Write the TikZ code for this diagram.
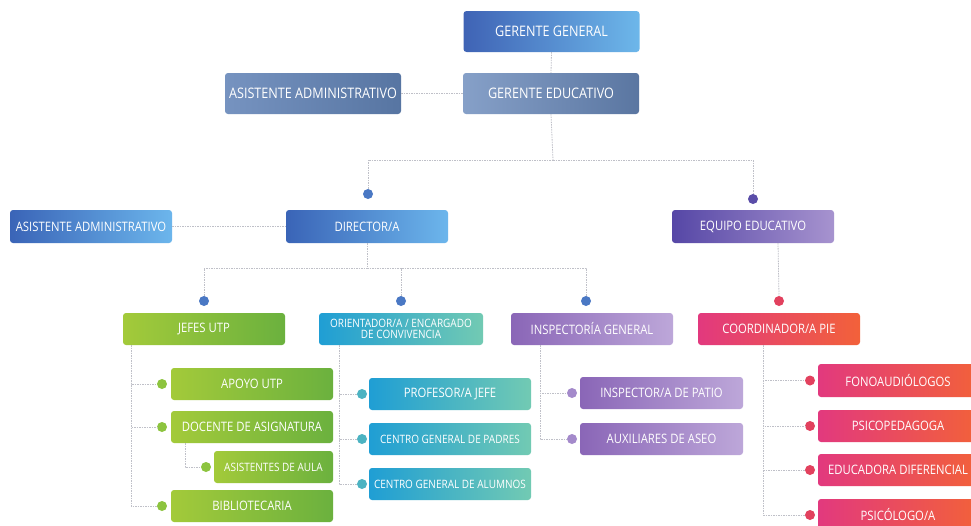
\documentclass[tikz,border=0pt]{standalone}
\usepackage{fontspec}
\setmainfont[FakeStretch=0.87]{Open Sans}
\usetikzlibrary{positioning}
\definecolor{ggL}{HTML}{3F63B5}\definecolor{ggR}{HTML}{6DB7EA}
\definecolor{geL}{HTML}{86A0C8}\definecolor{geR}{HTML}{5A76A1}
\definecolor{asL}{HTML}{7693C0}\definecolor{asR}{HTML}{5775A2}
\definecolor{diL}{HTML}{3A64B7}\definecolor{diR}{HTML}{6CB6EC}
\definecolor{eqL}{HTML}{5647A6}\definecolor{eqR}{HTML}{A793CF}
\definecolor{grL}{HTML}{A3CA3A}\definecolor{grR}{HTML}{6BB13E}
\definecolor{teL}{HTML}{1F9ED4}\definecolor{teR}{HTML}{72CAB3}
\definecolor{puL}{HTML}{8A66B7}\definecolor{puR}{HTML}{BDA7D9}
\definecolor{reL}{HTML}{E2397E}\definecolor{reR}{HTML}{F2613A}
\definecolor{dBlue}{HTML}{4A78C4}\definecolor{dPurp}{HTML}{5A4DA8}
\definecolor{dRed}{HTML}{E2415E}\definecolor{dGreen}{HTML}{8DC43F}
\definecolor{dTeal}{HTML}{4CB3C2}\definecolor{dLilac}{HTML}{A48ACB}
\definecolor{lineC}{HTML}{BFC0C8}
\tikzset{
  box/.style={rounded corners=3pt, text=white, inner sep=0pt, align=center,
    minimum height=32pt, minimum width=162pt, font=\fontsize{13}{14}\selectfont},
  topbox/.style={box, minimum height=41pt, minimum width=176pt, font=\fontsize{14.5}{16}\selectfont},
  smallfont/.style={font=\fontsize{11.5}{12.5}\selectfont},
  gg/.style={left color=ggL, right color=ggR},
  ge/.style={left color=geL, right color=geR},
  as/.style={left color=asL, right color=asR},
  di/.style={left color=diL, right color=diR},
  eq/.style={left color=eqL, right color=eqR},
  gr/.style={left color=grL, right color=grR},
  te/.style={left color=teL, right color=teR},
  pu/.style={left color=puL, right color=puR},
  re/.style={left color=reL, right color=reR},
  dotn/.style={circle, minimum size=10pt, inner sep=0pt, draw=none},
  conn/.style={draw=lineC, line width=0.8pt, dash pattern=on 1.5pt off 1pt},
}
\begin{document}
\begin{tikzpicture}[x=1pt,y=-1pt]
\path[use as bounding box, clip] (0,0) rectangle (971,525);
\fill[white] (0,0) rectangle (971,525);

% top level
\node[topbox, gg] (gg) at (551.5,31.5) {GERENTE GENERAL};
\node[topbox, ge] (ge) at (551,93.5) {GERENTE EDUCATIVO};
\node[topbox, as] (as1) at (313,93.5) {ASISTENTE ADMINISTRATIVO};

% second level
\node[box, di, minimum height=33pt] (dir) at (367,226.5) {DIRECTOR/A};
\node[box, di, minimum height=33pt] (as2) at (91,226.5) {ASISTENTE ADMINISTRATIVO};
\node[box, eq, minimum height=33pt] (eq) at (753,226.5) {EQUIPO EDUCATIVO};

% third level
\node[box, gr] (jef) at (204,329) {JEFES UTP};
\node[box, te, minimum width=164pt, smallfont, font=\fontsize{11.5}{11.5}\selectfont] (ori) at (401,329) {ORIENTADOR/A / ENCARGADO\\DE CONVIVENCIA};
\node[box, pu] (ins) at (592,329) {INSPECTORÍA GENERAL};
\node[box, re] (coo) at (779,329) {COORDINADOR/A PIE};

% children of JEFES UTP
\node[box, gr] (apo) at (252,384) {APOYO UTP};
\node[box, gr] (doc) at (252,427) {DOCENTE DE ASIGNATURA};
\node[box, gr, minimum width=119pt, smallfont] (asa) at (273.5,467) {ASISTENTES DE AULA};
\node[box, gr] (bib) at (252,506) {BIBLIOTECARIA};

% children of ORIENTADOR
\node[box, te] (pro) at (450,394) {PROFESOR/A JEFE};
\node[box, te, smallfont] (cgp) at (450,439) {CENTRO GENERAL DE PADRES};
\node[box, te, smallfont] (cga) at (450,484) {CENTRO GENERAL DE ALUMNOS};

% children of INSPECTORIA
\node[box, pu, minimum width=163pt] (ipa) at (661.5,393) {INSPECTOR/A DE PATIO};
\node[box, pu, minimum width=163pt] (aux) at (661.5,439) {AUXILIARES DE ASEO};

% children of COORDINADOR
\node[box, re, minimum width=160pt, minimum height=33pt] (fon) at (898,380.5) {FONOAUDIÓLOGOS};
\node[box, re, minimum width=160pt] (psi) at (898,426) {PSICOPEDAGOGA};
\node[box, re, minimum width=160pt] (edu) at (898,470) {EDUCADORA DIFERENCIAL};
\node[box, re, minimum width=160pt] (psl) at (898,515) {PSICÓLOGO/A};

% dots
\node[dotn, fill=dBlue] (ddir) at (368,194) {};
\node[dotn, fill=dPurp] (deq) at (753,199) {};
\node[dotn, fill=dBlue] (djef) at (204,301) {};
\node[dotn, fill=dBlue] (dori) at (401,301) {};
\node[dotn, fill=dBlue] (dins) at (586,301) {};
\node[dotn, fill=dRed] (dcoo) at (779,301) {};
\node[dotn, fill=dGreen] (dapo) at (162,384) {};
\node[dotn, fill=dGreen] (ddoc) at (162,427) {};
\node[dotn, fill=dGreen] (dasa) at (206,467) {};
\node[dotn, fill=dGreen] (dbib) at (162,506) {};
\node[dotn, fill=dTeal] (dpro) at (362,394) {};
\node[dotn, fill=dTeal] (dcgp) at (362,439) {};
\node[dotn, fill=dTeal] (dcga) at (362,484) {};
\node[dotn, fill=dLilac] (dipa) at (572,393) {};
\node[dotn, fill=dLilac] (daux) at (572,439) {};
\node[dotn, fill=dRed] (dfon) at (810,380.5) {};
\node[dotn, fill=dRed] (dpsi) at (810,426) {};
\node[dotn, fill=dRed] (dedu) at (810,470) {};
\node[dotn, fill=dRed] (dpsl) at (810,515) {};

% junction coordinates
\coordinate (j1) at (553,160);
\coordinate (j2) at (367,268);
\coordinate (jj) at (131,345);
\coordinate (jd) at (185,443);
\coordinate (jo) at (339,345);
\coordinate (ji) at (540,345);
\coordinate (jc) at (763,345);
\coordinate (je) at (778,243);

% connectors
\begin{scope}[on background layer/.style={}]
\draw[conn] (gg.south) -- (ge.north);
\draw[conn] (as1.east) -- (ge.west);
\draw[conn] (ge.south) -- (j1);
\draw[conn] (ddir.north) |- (j1);
\draw[conn] (j1) -| (deq.north);
\draw[conn] (as2.east) -- (dir.west);
\draw[conn] (dir.south) -- (j2);
\draw[conn] (djef.north) |- (j2);
\draw[conn] (dori.north) |- (j2);
\draw[conn] (j2) -| (dins.north);
\draw[conn] (je) -- (dcoo.north);
\draw[conn] (jj) |- (dapo.west);
\draw[conn] (jj) |- (ddoc.west);
\draw[conn] (jj) |- (dbib.west);
\draw[conn] (jd) |- (dasa.west);
\draw[conn] (jo) |- (dpro.west);
\draw[conn] (jo) |- (dcgp.west);
\draw[conn] (jo) |- (dcga.west);
\draw[conn] (ji) |- (dipa.west);
\draw[conn] (ji) |- (daux.west);
\draw[conn] (jc) |- (dfon.west);
\draw[conn] (jc) |- (dpsi.west);
\draw[conn] (jc) |- (dedu.west);
\draw[conn] (jc) |- (dpsl.west);
\end{scope}
\end{tikzpicture}
\end{document}
